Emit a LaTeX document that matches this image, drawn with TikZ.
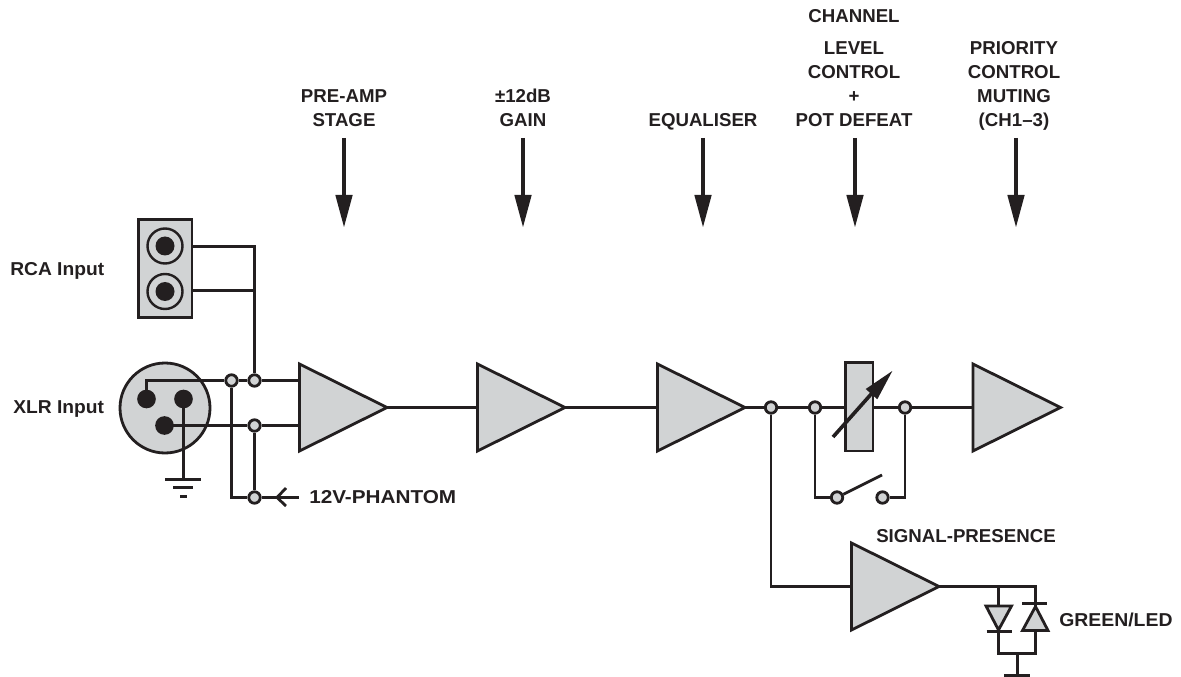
\documentclass[tikz,border=0pt]{standalone}
\usepackage{graphicx}
\usepackage{fontspec}
\setmainfont{Liberation Sans}
\definecolor{ink}{HTML}{231F20}
\definecolor{fillg}{HTML}{D1D3D4}
\tikzset{
 x=0.75pt,y=-0.75pt,
 wire/.style={draw=ink,line width=2.1pt},
 shapeg/.style={draw=ink,fill=fillg,line width=2.1pt,line join=miter},
 term/.style={circle,draw=ink,fill=fillg,line width=2.1pt,minimum size=8.6pt,inner sep=0pt},
 pin/.style={circle,fill=ink,minimum size=14pt,inner sep=0pt},
 lab/.style={text=ink,font=\bfseries\fontsize{14}{18}\selectfont,align=center,inner sep=0pt},
}
\newcommand{\amp}[3]{% name, left x, centre y
 \path[shapeg] (#2,#3-43.5) -- (#2+87.5,#3) -- (#2,#3+43.5) -- cycle;
 \coordinate (#1in) at (#2,#3);
 \coordinate (#1out) at (#2+87,#3);
}
\newcommand{\ctlarrow}[2]{% name, x
 \coordinate (#1s) at (#2,138);
 \coordinate (#1e) at (#2,196);
 \draw[ink,line width=2.6pt] (#1s) -- (#1e);
 \fill[ink] (#2-8.7,195) -- (#2+8.7,195) -- (#2,227) -- cycle;
}
\begin{document}
\begin{tikzpicture}
\useasboundingbox (0,0) rectangle (1181,677);
% control arrows and labels
\ctlarrow{a}{344}\ctlarrow{b}{523}\ctlarrow{c}{703}\ctlarrow{d}{855}\ctlarrow{e}{1016}
\node[lab,anchor=base] (t1) at (344,126.5) {PRE-AMP\\STAGE};
\node[lab,anchor=base] (t2) at (523,126.5) {±12dB\\GAIN};
\node[lab,anchor=base] (t3) at (703,126.5) {EQUALISER};
\node[lab,anchor=base] (t4a) at (854,23) {CHANNEL};
\node[lab,anchor=base] (t4) at (854,126.5) {LEVEL\\CONTROL\\+\\POT DEFEAT};
\node[lab,anchor=base] (t5) at (1014,126.5) {PRIORITY\\CONTROL\\MUTING\\(CH1–3)};
\node[lab,anchor=base west] (rcal) at (10,276) {\scalebox{1.03}[1]{RCA Input}};
\node[lab,anchor=base west] (xlrl) at (13,413.5) {\scalebox{1.03}[1]{XLR Input}};
\node[lab,anchor=base west] (ph) at (309,503) {\scalebox{1.11}[1]{12V-PHANTOM}};
\node[lab,anchor=base] (sig) at (966,542) {SIGNAL-PRESENCE};
\node[lab,anchor=base west] (grn) at (1059,626) {\scalebox{1.04}[1]{GREEN/LED}};
% RCA
\path[shapeg] (138.5,219.5) rectangle (192,317.5);
\coordinate (rcaA) at (192,246.5);
\coordinate (rcaB) at (192,290.5);
\coordinate (jct) at (254.5,290.5);
\foreach \y in {246,291.5}{
 \draw[ink,line width=1.8pt] (165,\y) circle[radius=17.5];
 \fill[ink] (165,\y) circle[radius=9.5];
}
% XLR
\path[shapeg] (165,408) circle[radius=45];
\node[pin] (p1) at (146.5,399) {};
\node[pin] (p2) at (183.5,399) {};
\node[pin] (p3) at (164.5,425.5) {};
% amps
\amp{A}{299.5}{407.5}\amp{B}{477.5}{407.5}\amp{C}{657.5}{407.5}\amp{D}{973}{407.5}\amp{E}{851.5}{586.5}
% wires
\coordinate (i1) at (299,380.5);
\coordinate (i2) at (299,425.5);
\coordinate (gnd) at (183.5,479);
\coordinate (ph0) at (231.5,497.5);
\node[term] (n1) at (231.5,380.5) {};
\node[term] (n2) at (254.5,380.5) {};
\node[term] (n3) at (254.5,425.5) {};
\node[term] (n4) at (254.5,497.5) {};
\node[term] (n5) at (771,407.5) {};
\node[term] (n6) at (815,407.5) {};
\node[term] (n7) at (905,407.5) {};
\node[term] (s1) at (837,497.5) {};
\node[term] (s2) at (882.5,497.5) {};
\draw[wire] (rcaA) -| (n2);
\draw[wire] (rcaB) -- (jct);
\draw[wire] (p1.center) |- (n1);
\draw[wire] (n1) -- (n2);
\draw[wire] (n2) -- (i1);
\draw[wire] (p3.center) -- (n3);
\draw[wire] (n3) -- (i2);
\draw[wire] (n3) -- (n4);
\draw[wire] (n1) |- (ph0) -- (n4);
\draw[wire] (p2.center) -- (gnd);
\coordinate (g1a) at (165,479.5);\coordinate (g1b) at (201,479.5);
\coordinate (g2a) at (173,487.5);\coordinate (g2b) at (193,487.5);
\coordinate (g3a) at (180,496.5);\coordinate (g3b) at (187,496.5);
\draw[wire] (g1a) -- (g1b);
\draw[wire] (g2a) -- (g2b);
\draw[wire] (g3a) -- (g3b);
\coordinate (phe) at (299,497.5);
\coordinate (pht) at (277,497.5);
\coordinate (phu) at (286,488);
\coordinate (phd) at (286,506);
\draw[wire] (n4) -- (phe);
\draw[wire] (phu) -- (pht) -- (phd);
\draw[wire] (Aout) -- (Bin);
\draw[wire] (Bout) -- (Cin);
\draw[wire] (Cout) -- (n5);
\draw[wire] (n5) -- (n6);
\draw[wire] (n7) -- (Din);
\draw[wire] (n5) |- (Ein);
% pot
\coordinate (potl) at (845,407.5);
\coordinate (potr) at (873.5,407.5);
\draw[wire] (n6) -- (potl);
\draw[wire] (potr) -- (n7);
\path[shapeg] (845.5,362.5) rectangle (873,451);
\coordinate (wb) at (833,437);
\coordinate (we) at (873,392);
\draw[ink,line width=2.7pt] (wb) -- (we);
\fill[ink] (892.3,371) -- (877.3,399.3) -- (865.7,389) -- cycle;
% bypass switch
\draw[wire] (n6) |- (s1);
\draw[wire] (n7) |- (s2);
\coordinate (sw) at (882,475);
\draw[wire] (s1) -- (sw);
% LED
\coordinate (d1t) at (998.5,586.5);
\coordinate (d2t) at (1035.5,586.5);
\coordinate (d1b) at (998.5,653.5);
\coordinate (d2b) at (1035.5,653.5);
\coordinate (lg) at (1017.5,653.5);
\coordinate (lgb) at (1017.5,675.5);
\draw[wire,line join=miter] (Eout) -- (d1t) -- (d2t) -- (d2b) -- (d1b) -- (d1t);
\draw[wire] (lg) -- (lgb);
\coordinate (lga) at (1004,675.5);\coordinate (lgc) at (1030,675.5);
\draw[wire] (lga) -- (lgc);
\path[shapeg] (986,606) -- (1011.5,606) -- (998.5,630) -- cycle;
\path[shapeg] (1022.5,630.5) -- (1048,630.5) -- (1035.5,606.5) -- cycle;
\coordinate (b1a) at (986.5,631.5);\coordinate (b1b) at (1011.5,631.5);
\coordinate (b2a) at (1022,603.5);\coordinate (b2b) at (1047,603.5);
\draw[wire] (b1a) -- (b1b);
\draw[wire] (b2a) -- (b2b);
\end{tikzpicture}
\end{document}
